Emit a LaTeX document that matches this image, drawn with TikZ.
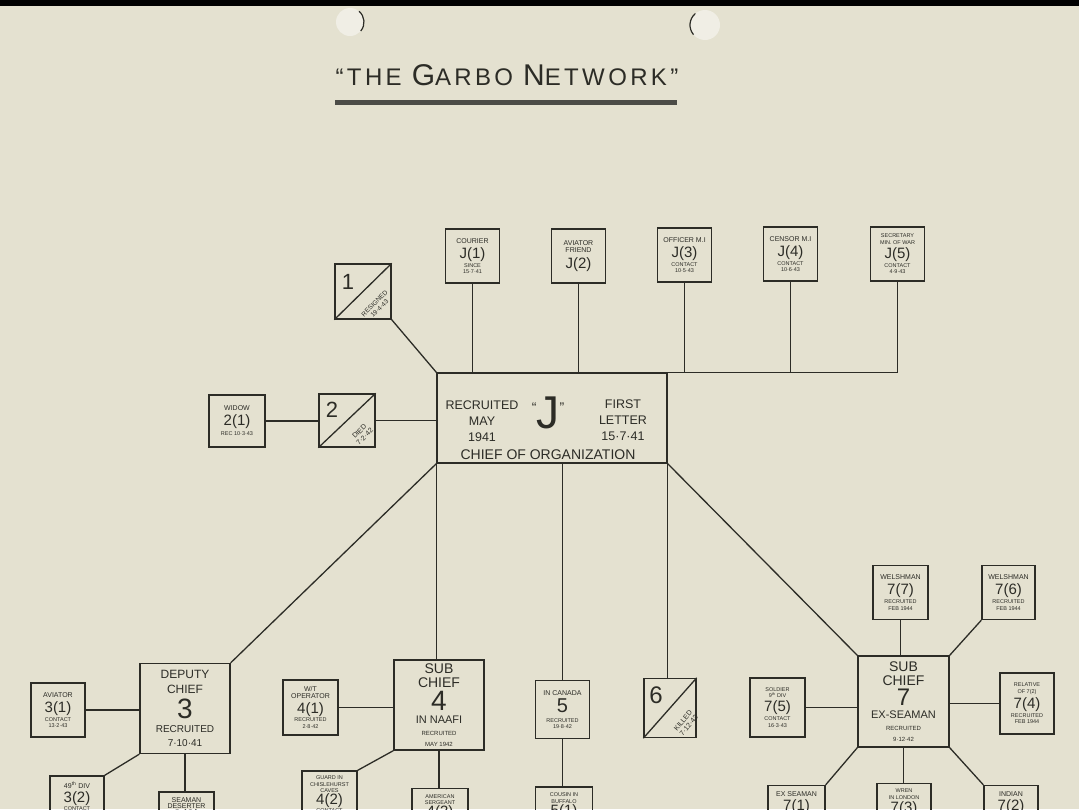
\documentclass[tikz,border=0pt]{standalone}
\usepackage{fontspec}
\setmainfont{Liberation Sans}
\definecolor{paper}{RGB}{228,225,208}
\definecolor{paperlight}{RGB}{240,238,229}
\definecolor{ink}{RGB}{44,44,38}
\newcommand{\hdsize}{\fontsize{7}{8}\selectfont}
\newcommand{\numsize}{\fontsize{15}{15}\selectfont}
\newcommand{\bignum}{\fontsize{28}{28}\selectfont}
\newcommand{\chsize}{\fontsize{14}{15}\selectfont}

\begin{document}
\begin{tikzpicture}[x=1pt, y=-1pt,
	box/.style={draw=ink, line width=1.3pt, inner sep=0pt, align=center, text=ink},
	agent/.style={box, minimum width=54pt, minimum height=54pt, font=\fontsize{5.5}{6.5}\selectfont},
	chiefbox/.style={box, minimum width=90pt, minimum height=90pt, font=\fontsize{10}{11}\selectfont},
	link/.style={draw=ink, line width=1.3pt},
	lettering/.style={text=ink, align=center, inner sep=0pt}]
	\useasboundingbox (0,0) rectangle (1079,809);
	\clip (0,0) rectangle (1079,809);
	\fill [paper] (0,0) rectangle (1079,809);
	\fill [black] (0,0) rectangle (1079,6);

	% punch holes
	\fill [paperlight] (350,22) circle (14);
	\draw [ink, line width=1.2pt] (350,22) ++(-50:14) arc (-50:40:14);
	\fill [paperlight] (705,25) circle (15);
	\draw [ink, line width=1.2pt] (705,25) ++(140:15) arc (140:230:15);

	% title
	\node [lettering, font=\fontsize{24}{24}\selectfont\addfontfeatures{LetterSpace=14}] (title) at (507,75) {“THE {\fontsize{30}{30}\selectfont G}ARBO {\fontsize{30}{30}\selectfont N}ETWORK”};
	\draw [ink!85, line width=5pt] (335,102) -- (677,102);

	% chief J and his contacts
	\node [box, minimum width=230pt, minimum height=90pt] (chief) at (552,418) {};
	\node [lettering, font=\fontsize{12.5}{16}\selectfont] (recruited) at (482,421) {RECRUITED\\MAY\\1941};
	\node [lettering, font=\fontsize{46}{46}\selectfont] (jay) at (548,413) {\raisebox{16pt}{\fontsize{14}{14}\selectfont “}J\raisebox{16pt}{\fontsize{14}{14}\selectfont ”}};
	\node [lettering, font=\fontsize{12.5}{16}\selectfont] (letter) at (623,420) {FIRST\\LETTER\\15·7·41};
	\node [lettering, font=\fontsize{14}{14}\selectfont] (organization) at (548,455) {CHIEF OF ORGANIZATION};

	\node [agent] (j1) at (472.5,256) {{\hdsize COURIER}\\[3pt]{\numsize J(1)}\\[1pt]SINCE\\15·7·41};
	\node [agent] (j2) at (578.5,256) {{\hdsize AVIATOR}\\{\hdsize FRIEND}\\[4pt]{\numsize J(2)}};
	\node [agent] (j3) at (684.5,255) {{\hdsize OFFICER M.I}\\[3pt]{\numsize J(3)}\\[1pt]CONTACT\\10·5·43};
	\node [agent] (j4) at (790.5,254) {{\hdsize CENSOR M.I}\\[3pt]{\numsize J(4)}\\[1pt]CONTACT\\10·6·43};
	\node [agent] (j5) at (897.5,254) {SECRETARY\\MIN. OF WAR\\[2pt]{\numsize J(5)}\\[1pt]CONTACT\\4·9·43};
	\coordinate (barend) at (j5.south |- chief.north);

	\draw [link] (chief.north west) -- (barend);
	\draw [link] (j1.south) -- (j1.south |- chief.north);
	\draw [link] (j2.south) -- (j2.south |- chief.north);
	\draw [link] (j3.south) -- (j3.south |- chief.north);
	\draw [link] (j4.south) -- (j4.south |- chief.north);
	\draw [link] (j5.south) -- (barend);

	% agents 1 and 2
	\node [agent, minimum width=56pt, minimum height=55pt] (a1) at (363,291.5) {};
	\draw [link] (a1.south west) -- (a1.north east);
	\node [lettering, font=\fontsize{22}{22}\selectfont] (n1) at (348,282) {1};
	\node [lettering, rotate=45, font=\fontsize{6.5}{7}\selectfont] (resigned) at (377,306) {RESIGNED\\19·4·43};
	\draw [link] (a1.south east) -- (chief.north west);

	\node [agent, minimum width=56pt, minimum height=53pt] (a2) at (347,420.5) {};
	\draw [link] (a2.south west) -- (a2.north east);
	\node [lettering, font=\fontsize{22}{22}\selectfont] (n2) at (332,410) {2};
	\node [lettering, rotate=45, font=\fontsize{7}{7.5}\selectfont] (died) at (362,434) {DIED\\7·2·42};
	\node [agent, minimum width=56pt, minimum height=52pt] (a21) at (237,421) {{\hdsize WIDOW}\\[3pt]{\numsize 2(1)}\\[2pt]REC 10·3·43};
	\draw [link] (a21.east) -- (a21.east -| a2.west);
	\draw [link] (a2.east) -- (a2.east -| chief.west);

	% deputy chief 3
	\node [chiefbox] (a3) at (185,708.5) {{\fontsize{12}{13}\selectfont DEPUTY}\\[4pt]{\fontsize{12}{13}\selectfont CHIEF}\\[4pt]{\bignum 3}\\[3pt]RECRUITED\\[3pt]7·10·41};
	\node [agent] (a31) at (58,710) {{\hdsize AVIATOR}\\[3pt]{\numsize 3(1)}\\[1pt]CONTACT\\13·2·43};
	\node [agent] (a32) at (77,803) {{\hdsize 49\textsuperscript{th} DIV}\\[2pt]{\numsize 3(2)}\\CONTACT\rule[-14pt]{0pt}{0pt}};
	\node [agent, minimum width=55pt] (a33) at (186.5,819) {{\hdsize SEAMAN}\\{\hdsize DESERTER}\\{\numsize 3(3)}\rule[-20pt]{0pt}{0pt}};
	\draw [link] (chief.south west) -- (a3.north east);
	\draw [link] (a31.east) -- (a31.east -| a3.west);
	\draw [link] (a3.south west) -- (a32.north east);
	\draw [link] (a3.south) -- (a3.south |- a33.north);

	% sub chief 4
	\node [chiefbox] (a4) at (439,705) {{\chsize SUB}\\[3pt]{\chsize CHIEF}\\[3pt]{\bignum 4}\\[2pt]{\fontsize{11}{11}\selectfont IN NAAFI}\\[1pt]{\fontsize{6}{6}\selectfont RECRUITED}\\{\fontsize{6}{6}\selectfont MAY 1942}};
	\node [agent, minimum width=55pt, minimum height=55pt] (a41) at (310.5,707.5) {{\hdsize W/T}\\{\hdsize OPERATOR}\\[3pt]{\numsize 4(1)}\\[1pt]RECRUITED\\2·8·42};
	\node [agent, minimum width=55pt, minimum height=55pt] (a42) at (329.5,798.5) {GUARD IN\\CHISLEHURST\\CAVES\\{\numsize 4(2)}\\CONTACT\rule[-8pt]{0pt}{0pt}};
	\node [agent, minimum width=56pt] (a43) at (440,815.5) {AMERICAN\\SERGEANT\\{\numsize 4(3)}\rule[-20pt]{0pt}{0pt}};
	\draw [link] (chief.south west) -- (chief.south west |- a4.north);
	\draw [link] (a41.east) -- (a41.east -| a4.west);
	\draw [link] (a4.south west) -- (a42.north east);
	\draw [link] (a4.south) -- (a4.south |- a43.north);

	% agents 5 and 6
	\node [agent, minimum height=58pt] (a5) at (562.5,709.5) {{\hdsize IN CANADA}\\[3pt]{\fontsize{20}{20}\selectfont 5}\\[3pt]RECRUITED\\19·8·42};
	\node [agent, minimum width=57pt] (a51) at (564,814) {COUSIN IN\\BUFFALO\\{\numsize 5(1)}\rule[-20pt]{0pt}{0pt}};
	\draw [link] (a5.north) -- (a5.north |- chief.south);
	\draw [link] (a5.south) -- (a5.south |- a51.north);

	\node [agent, minimum width=52pt, minimum height=59pt] (a6) at (670,708) {};
	\draw [link] (a6.south west) -- (a6.north east);
	\node [lettering, font=\fontsize{24}{24}\selectfont] (n6) at (656,695) {6};
	\node [lettering, rotate=50, font=\fontsize{7}{7.5}\selectfont] (killed) at (686,723) {KILLED\\7·12·43};
	\draw [link] (chief.south east) -- (chief.south east |- a6.north);

	% sub chief 7
	\node [chiefbox, minimum width=91pt, minimum height=91pt] (a7) at (903.5,701.5) {{\chsize SUB}\\[3pt]{\chsize CHIEF}\\[2pt]{\fontsize{24}{24}\selectfont 7}\\[2pt]{\fontsize{11}{11}\selectfont EX-SEAMAN}\\[1pt]{\fontsize{6}{6}\selectfont RECRUITED}\\{\fontsize{6}{6}\selectfont 9·12·42}};
	\node [agent, minimum width=55pt] (a77) at (900.5,592.5) {{\hdsize WELSHMAN}\\[3pt]{\numsize 7(7)}\\[1pt]RECRUITED\\FEB 1944};
	\node [agent, minimum width=53pt] (a76) at (1008.5,592.5) {{\hdsize WELSHMAN}\\[3pt]{\numsize 7(6)}\\[1pt]RECRUITED\\FEB 1944};
	\node [agent, minimum width=55pt, minimum height=59pt] (a75) at (777.5,707.5) {SOLDIER\\9\textsuperscript{th} DIV\\[2pt]{\numsize 7(5)}\\[1pt]CONTACT\\16·3·43};
	\node [agent, minimum height=61pt] (a74) at (1027,703.5) {RELATIVE\\OF 7(2)\\[2pt]{\numsize 7(4)}\\[1pt]RECRUITED\\FEB 1944};
	\node [agent, minimum width=57pt] (a71) at (796.5,812.5) {{\hdsize EX SEAMAN}\\[2pt]{\numsize 7(1)}\rule[-22pt]{0pt}{0pt}};
	\node [agent] (a72) at (904,810.5) {WREN\\IN LONDON\\[1pt]{\numsize 7(3)}\rule[-20pt]{0pt}{0pt}};
	\node [agent] (a73) at (1011,812.5) {{\hdsize INDIAN}\\[2pt]{\numsize 7(2)}\rule[-22pt]{0pt}{0pt}};
	\draw [link] (chief.south east) -- (a7.north west);
	\draw [link] (a77.south) -- (a77.south |- a7.north);
	\draw [link] (a76.south west) -- (a7.north east);
	\draw [link] (a75.east) -- (a75.east -| a7.west);
	\draw [link] (a74.west) -- (a74.west -| a7.east);
	\draw [link] (a7.south west) -- (a71.north east);
	\draw [link] (a7.south) -- (a7.south |- a72.north);
	\draw [link] (a7.south east) -- (a73.north west);
\end{tikzpicture}
\end{document}
